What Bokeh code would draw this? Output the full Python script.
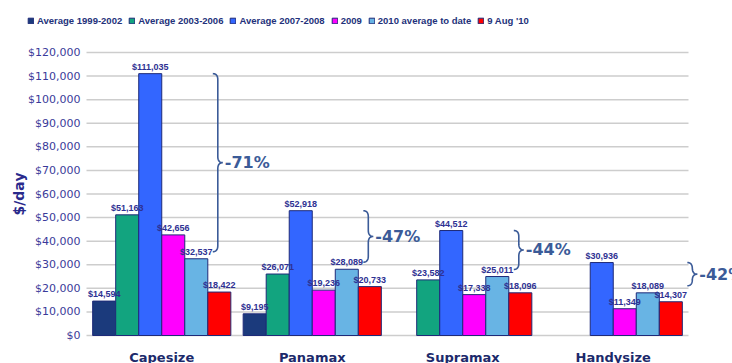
import numpy as np
from bokeh.plotting import figure
from bokeh.models import ColumnDataSource, Range1d, Legend, LegendItem
from bokeh.core.properties import value
from bokeh.embed import file_html
from bokeh.resources import INLINE

# ---------------- data ----------------
categories = ["Capesize", "Panamax", "Supramax", "Handysize"]
series_names = ["Average 1999-2002", "Average 2003-2006", "Average 2007-2008",
                "2009", "2010 average to date", "9 Aug '10"]
avg_1999_2002 = [14594, 9195, np.nan, np.nan]
avg_2003_2006 = [51163, 26071, 23582, np.nan]
avg_2007_2008 = [111035, 52918, 44512, 30936]
year_2009 = [42656, 19236, 17338, 11349]
avg_2010 = [32537, 28089, 25011, 18089]
aug_9_10 = [18422, 20733, 18096, 14307]
changes = ["-71%", "-47%", "-44%", "-42%"]
y_ticks = list(range(0, 120001, 10000))
y_label = "$/day"

series_values = [avg_1999_2002, avg_2003_2006, avg_2007_2008, year_2009, avg_2010, aug_9_10]
colors = ["#1B3A7C", "#12A47F", "#3366FF", "#FF00FF", "#68B4E4", "#FF0000"]

# ---------------- layout (pixels) ----------------
W, H = 732, 363
left_px, top_px, bottom_px = 86, 52, 28       # plotting-area margins
px_per_cat = 150.5
y_max = 120000
units_per_px = y_max / (H - top_px - bottom_px)

p = figure(width=W, height=H, output_backend="svg", toolbar_location=None,
           x_range=Range1d(-left_px / px_per_cat, (W - left_px) / px_per_cat),
           y_range=Range1d(-bottom_px * units_per_px, y_max + top_px * units_per_px),
           min_border=0)
p.outline_line_color = None
p.background_fill_color = "white"
p.border_fill_color = "white"
p.xgrid.visible = False
p.ygrid.visible = False
p.xaxis.visible = False
p.yaxis.visible = False

# gridlines across the category span
n_cat = len(categories)
p.segment(x0=[0] * len(y_ticks), x1=[n_cat] * len(y_ticks), y0=y_ticks, y1=y_ticks,
          line_color="#CDCDCD", line_width=1.5)

# y tick labels
tick_src = ColumnDataSource(dict(x=[0] * len(y_ticks), y=y_ticks,
                                 t=["${:,}".format(v) for v in y_ticks]))
p.text(x="x", y="y", text="t", source=tick_src, x_offset=-6, text_align="right",
       text_baseline="middle", text_font=value("DejaVu Sans"), text_font_size="11px",
       text_color="#3A3A9A")
# y axis title
p.text(x=[0], y=[y_max / 2], text=[y_label], x_offset=-68, angle=np.pi / 2,
       text_align="center", text_baseline="middle", text_font=value("DejaVu Sans"),
       text_font_style="bold", text_font_size="14px", text_color="#2A2A8C")
# category labels
p.text(x=[i + 0.5 for i in range(n_cat)], y=[0] * n_cat, text=categories, y_offset=14,
       text_align="center", text_baseline="top", text_font=value("DejaVu Sans"),
       text_font_style="bold", text_font_size="13px", text_color="#1C2A6B")

# bars
bar_w = 0.153
items = []
label_sources = []
for j, (name, vals, col) in enumerate(zip(series_names, series_values, colors)):
    xs, ys, txt = [], [], []
    for i, v in enumerate(vals):
        if not np.isnan(v):
            xs.append(i + 0.5 + (j - 2.5) * bar_w)
            ys.append(v)
            txt.append("${:,}".format(int(v)))
    src = ColumnDataSource(dict(x=xs, top=ys, label=txt))
    r = p.vbar(x="x", top="top", width=bar_w, source=src, fill_color=col,
               line_color="#1E2A78", line_width=1)
    label_sources.append(src)
    items.append(LegendItem(label=name, renderers=[r]))

for src in label_sources:
    p.text(x="x", y="top", text="label", source=src, text_align="center",
           text_baseline="bottom", y_offset=-2, text_font=value("Liberation Sans"),
           text_font_style="bold", text_font_size="9px", text_color="#2E3192")

legend = Legend(items=items, orientation="horizontal", location=(27, H - 26),
                glyph_width=7, glyph_height=7, label_standoff=3, spacing=6,
                padding=0, margin=0, label_height=10,
                label_text_font="Liberation Sans", label_text_font_style="bold",
                label_text_font_size="9.5px", label_text_color="#23317A",
                background_fill_alpha=0, border_line_alpha=0)
p.add_layout(legend, "center")

# ---------------- braces showing the drop from 2007-2008 to 2010 ----------------
brace_color = "#3B5B98"
brace_w = 10 / px_per_cat      # brace width in x data units
r_y = 2600                     # hook radius in y data units
bottom_gap = 3000
anchor_series = [4, 4, 4, 5]   # series whose bar the brace sits just right of


def quad(p0, c, p1, n=12):
    t = np.linspace(0, 1, n)
    x = (1 - t) ** 2 * p0[0] + 2 * (1 - t) * t * c[0] + t ** 2 * p1[0]
    y = (1 - t) ** 2 * p0[1] + 2 * (1 - t) * t * c[1] + t ** 2 * p1[1]
    return list(x), list(y)


bx, by, tx, ty = [], [], [], []
for i in range(n_cat):
    top = avg_2007_2008[i]
    bot = avg_2010[i] + bottom_gap
    mid = (top + bot) / 2
    x0 = i + 0.5 + (anchor_series[i] - 2.5) * bar_w + bar_w / 2 + 5 / px_per_cat
    xm = x0 + brace_w / 2
    xt = x0 + brace_w
    xs, ys = [], []
    for seg in [quad((x0, top), (xm, top), (xm, top - r_y)),
                ([xm, xm], [top - r_y, mid + r_y]),
                quad((xm, mid + r_y), (xm, mid), (xt, mid)),
                quad((xt, mid), (xm, mid), (xm, mid - r_y)),
                ([xm, xm], [mid - r_y, bot + r_y]),
                quad((xm, bot + r_y), (xm, bot), (x0, bot))]:
        xs += list(seg[0])
        ys += list(seg[1])
    bx.append(xs)
    by.append(ys)
    tx.append(xt)
    ty.append(mid)
p.multi_line(xs=bx, ys=by, line_color=brace_color, line_width=1.6)
p.text(x=tx, y=ty, text=changes, x_offset=2, text_baseline="middle", text_align="left",
       text_font=value("DejaVu Sans"), text_font_style="bold", text_font_size="16px",
       text_color=brace_color)

open("out.html", "w").write(file_html(p, INLINE))
